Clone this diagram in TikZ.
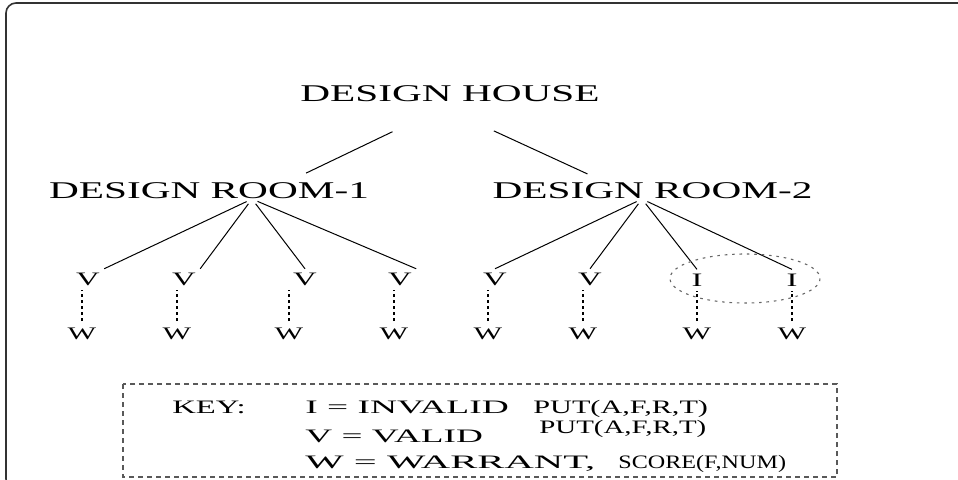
\documentclass[tikz,border=0pt]{standalone}
\usepackage{fontspec}
\setmainfont{Liberation Serif}
\newfontfamily\treefont{Liberation Serif}[FakeStretch=1.72]
\newcommand{\keywide}[2]{\scalebox{#1}[1]{#2}}
\tikzstyle{title} = [font=\treefont\fontsize{12pt}{14pt}\selectfont, inner sep=0pt]
\tikzstyle{leaf} = [font=\treefont\fontsize{9.5pt}{11pt}\selectfont, inner sep=2pt]
\tikzstyle{warrant} = [font=\treefont\fontsize{8.8pt}{10pt}\selectfont, inner sep=3pt]
\tikzstyle{keytext} = [font=\fontsize{9.5pt}{11pt}\selectfont, anchor=base west, inner sep=0pt]
\tikzstyle{line} = [draw, line width=0.5pt]
\tikzstyle{branch} = [line, shorten <=3pt]
\tikzstyle{link} = [draw, line width=0.55pt, dash pattern=on 1.8pt off 1.2pt]
\tikzstyle{ring} = [draw=black!60, line width=0.55pt, dash pattern=on 1.3pt off 2.4pt]
\tikzstyle{keybox} = [draw=black!65, line width=0.55pt, dash pattern=on 2.5pt off 2pt]
\tikzstyle{frame} = [draw=black!80, line width=0.8pt, rounded corners=5pt]

\begin{document}
\begin{tikzpicture}[x=0.5pt, y=-0.5pt]
        \clip (0,0) rectangle (958,479);
        \draw[frame] (6,3) rectangle (990,489);
        % tree
        \node[title] (house) at (450,94) {DESIGN HOUSE};
        \node[title] (room1) at (209,190.5) {DESIGN ROOM-1};
        \node[title] (room2) at (652.5,190.5) {DESIGN ROOM-2};
        \coordinate (top) at (443,107.5);
        \coordinate (fork1) at (252,199);
        \coordinate (fork2) at (642,199);
        \path[line, shorten <=28pt, shorten >=30pt] (top) -- (fork1);
        \path[line, shorten <=28pt, shorten >=30pt] (top) -- (fork2);
        \node[leaf] (v1) at (88,279.5) {V};
        \node[leaf] (v2) at (184,279.5) {V};
        \node[leaf] (v3) at (305,279.5) {V};
        \node[leaf] (v4) at (400,279.5) {V};
        \node[leaf] (v5) at (495,279.5) {V};
        \node[leaf] (v6) at (590,279.5) {V};
        \node[leaf] (i1) at (697,280) {I};
        \node[leaf] (i2) at (792,280) {I};
        \path[branch] (fork1) -- (v1.north east);
        \path[branch] (fork1) -- (v2.north east);
        \path[branch] (fork1) -- (v3.north);
        \path[branch] (fork1) -- (v4.north east);
        \path[branch] (fork2) -- (v5.north);
        \path[branch] (fork2) -- (v6.north);
        \path[branch] (fork2) -- (i1.north);
        \path[branch] (fork2) -- (i2.north);
        \node[warrant] (w1) at (82,333.5) {W};
        \node[warrant] (w2) at (177,333.5) {W};
        \node[warrant] (w3) at (289,333.5) {W};
        \node[warrant] (w4) at (394,333.5) {W};
        \node[warrant] (w5) at (488,333.5) {W};
        \node[warrant] (w6) at (583,333.5) {W};
        \node[warrant] (w7) at (697,333.5) {W};
        \node[warrant] (w8) at (792,333.5) {W};
        \path[link] (w1.north) -- (w1.north |- v1.south);
        \path[link] (w2.north) -- (w2.north |- v2.south);
        \path[link] (w3.north) -- (w3.north |- v3.south);
        \path[link] (w4.north) -- (w4.north |- v4.south);
        \path[link] (w5.north) -- (w5.north |- v5.south);
        \path[link] (w6.north) -- (w6.north |- v6.south);
        \path[link] (w7.north) -- (w7.north |- i1.south);
        \path[link] (w8.north) -- (w8.north |- i2.south);
        \draw[ring] (745,278.5) ellipse [x radius=75, y radius=24.5];
        % key
        \draw[keybox] (123,384) rectangle (837,477);
        \node[keytext] (keyhd) at (172,413) {\keywide{1.72}{KEY:}};
        \node[keytext] (keyi) at (305,413) {\keywide{1.97}{I = INVALID}};
        \node[keytext] (puti) at (533,413) {\keywide{1.59}{PUT(A,F,R,T)}};
        \node[keytext] (keyv) at (305,442) {\keywide{1.96}{V = VALID}};
        \node[keytext] (putv) at (539,433) {\keywide{1.52}{PUT(A,F,R,T)}};
        \node[keytext] (keyw) at (305,468) {\keywide{2.14}{W = WARRANT,}};
        \node[keytext] (scorew) at (618,468) {\keywide{1.27}{SCORE(F,NUM)}};
    \end{tikzpicture}
\end{document}
